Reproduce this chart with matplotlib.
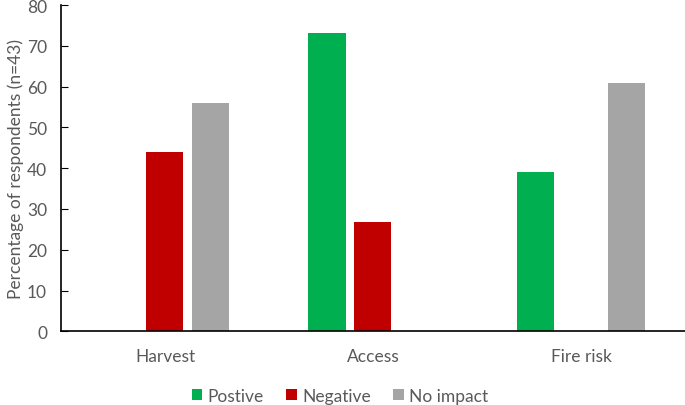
import numpy as np
import matplotlib
matplotlib.use("Agg")
import matplotlib.pyplot as plt

categories = ["Harvest", "Access", "Fire risk"]
positive = [0, 73.2, 39.0]
negative = [43.9, 26.8, 0]
no_impact = [56.1, 0, 61.0]

plt.rcParams['font.family'] = ['Lato', 'DejaVu Sans']
txt = '#595959'
fs = 12.5

fig = plt.figure(figsize=(6.85, 4.06), dpi=100)
ax = fig.add_axes([0.089, 0.1815, 0.911, 0.8035])

x = np.arange(len(categories))
w = 0.178
off = 0.221
ax.bar(x - off, positive, w, color='#00B050', label='Postive')
ax.bar(x, negative, w, color='#C00000', label='Negative')
ax.bar(x + off, no_impact, w, color='#A5A5A5', label='No impact')

ax.set_xlim(-0.5, 2.5)
ax.set_ylim(0, 80)
ax.set_yticks(range(0, 81, 10))
ax.set_xticks(x)
ax.set_xticklabels(categories)
ax.tick_params(axis='y', direction='in', length=5, colors='black', labelcolor=txt, labelsize=fs, pad=10)
ax.tick_params(axis='x', length=0, labelcolor=txt, labelsize=fs, pad=12)
for s in ['top', 'right']:
    ax.spines[s].set_visible(False)
ax.spines['left'].set_linewidth(1.2)
ax.spines['bottom'].set_linewidth(1.2)
ax.set_ylabel('Percentage of respondents (n=43)', color=txt, fontsize=fs, labelpad=2)

ax.legend(loc='upper center', bbox_to_anchor=(0.447, -0.125), ncol=3, frameon=False,
          fontsize=fs, labelcolor=txt, handlelength=0.6, handleheight=0.6,
          handletextpad=0.3, columnspacing=1.3)

fig.savefig('out.png', dpi=100)
